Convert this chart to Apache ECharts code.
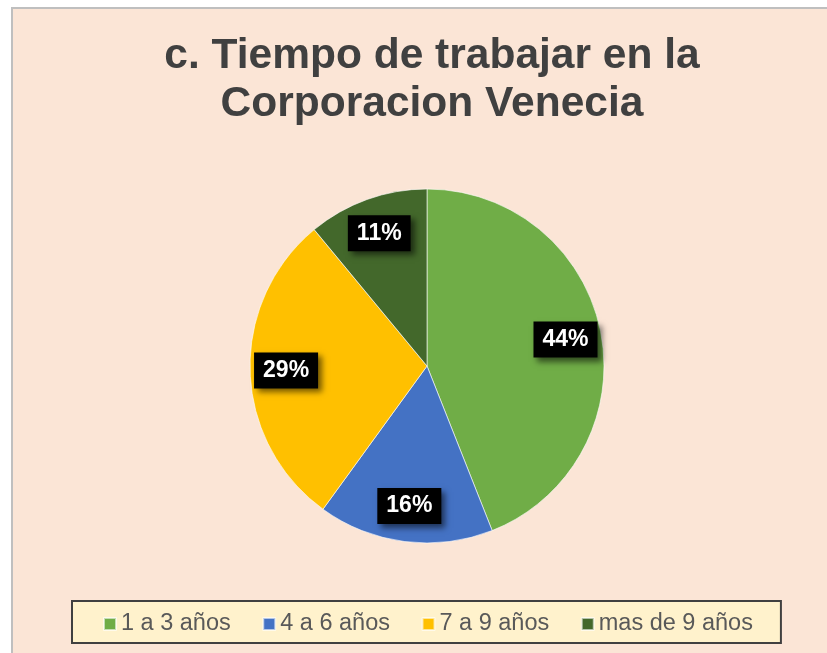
<!DOCTYPE html>
<html>
<head>
<meta charset="utf-8">
<script src="https://cdn.jsdelivr.net/npm/echarts@6/dist/echarts.min.js"></script>
<style>
html, body { margin: 0; padding: 0; background: #fff; }
#chart { width: 827px; height: 653px; }
</style>
</head>
<body>
<div id="chart"></div>
<script>
var categorias = ['1 a 3 años', '4 a 6 años', '7 a 9 años', 'mas de 9 años'];
var porcentajes = [44, 16, 29, 11];
var colores = ['#70AD47', '#4472C4', '#FFC000', '#43682B'];

var chart = echarts.init(document.getElementById('chart'));

var datos = [];
var etiquetas = [];
for (var i in categorias) {
    datos.push({ name: categorias[i], value: porcentajes[i], itemStyle: { color: colores[i] } });
    etiquetas.push({ name: categorias[i], value: porcentajes[i] });
}

chart.setOption({
    backgroundColor: '#fff',
    graphic: [{
        type: 'rect',
        z: -10,
        shape: { x: 12, y: 8, width: 830, height: 660 },
        style: { fill: '#FBE5D6', stroke: '#BFBFBF', lineWidth: 2 }
    }],
    title: {
        text: 'c. Tiempo de trabajar en la\nCorporacion Venecia',
        left: 427,
        top: 27,
        textAlign: 'center',
        textStyle: {
            fontFamily: 'Liberation Sans',
            fontSize: 42.5,
            fontWeight: 'bold',
            color: '#404040',
            lineHeight: 48
        }
    },
    legend: {
        data: categorias,
        left: 72,
        top: 601,
        icon: 'rect',
        itemWidth: 12,
        itemHeight: 12,
        itemGap: 31.5,
        padding: [11, 28, 7, 31],
        backgroundColor: '#FFF2CC',
        borderColor: '#404040',
        borderWidth: 2,
        borderRadius: 0,
        textStyle: {
            fontFamily: 'Liberation Sans',
            fontSize: 23.5,
            color: '#595959'
        }
    },
    series: [
        {
            type: 'pie',
            center: [427, 366],
            radius: 177,
            startAngle: 90,
            silent: true,
            label: { show: false },
            labelLine: { show: false },
            itemStyle: { borderColor: 'rgba(255,255,255,0.6)', borderWidth: 1 },
            data: datos
        },
        {
            // serie invisible para colocar las etiquetas mas afuera
            type: 'pie',
            center: [427, 366],
            radius: [99, 177],
            startAngle: 90,
            silent: true,
            itemStyle: { color: 'transparent' },
            labelLine: { show: false },
            label: {
                show: true,
                position: 'inside',
                formatter: '{c}%',
                fontFamily: 'Liberation Sans',
                fontSize: 23,
                fontWeight: 'bold',
                color: '#fff',
                backgroundColor: '#000',
                padding: [7, 9, 6, 9],
                shadowColor: 'rgba(0,0,0,0.55)',
                shadowBlur: 6,
                shadowOffsetX: 4,
                shadowOffsetY: 4
            },
            data: etiquetas
        }
    ]
});
</script>
</body>
</html>
